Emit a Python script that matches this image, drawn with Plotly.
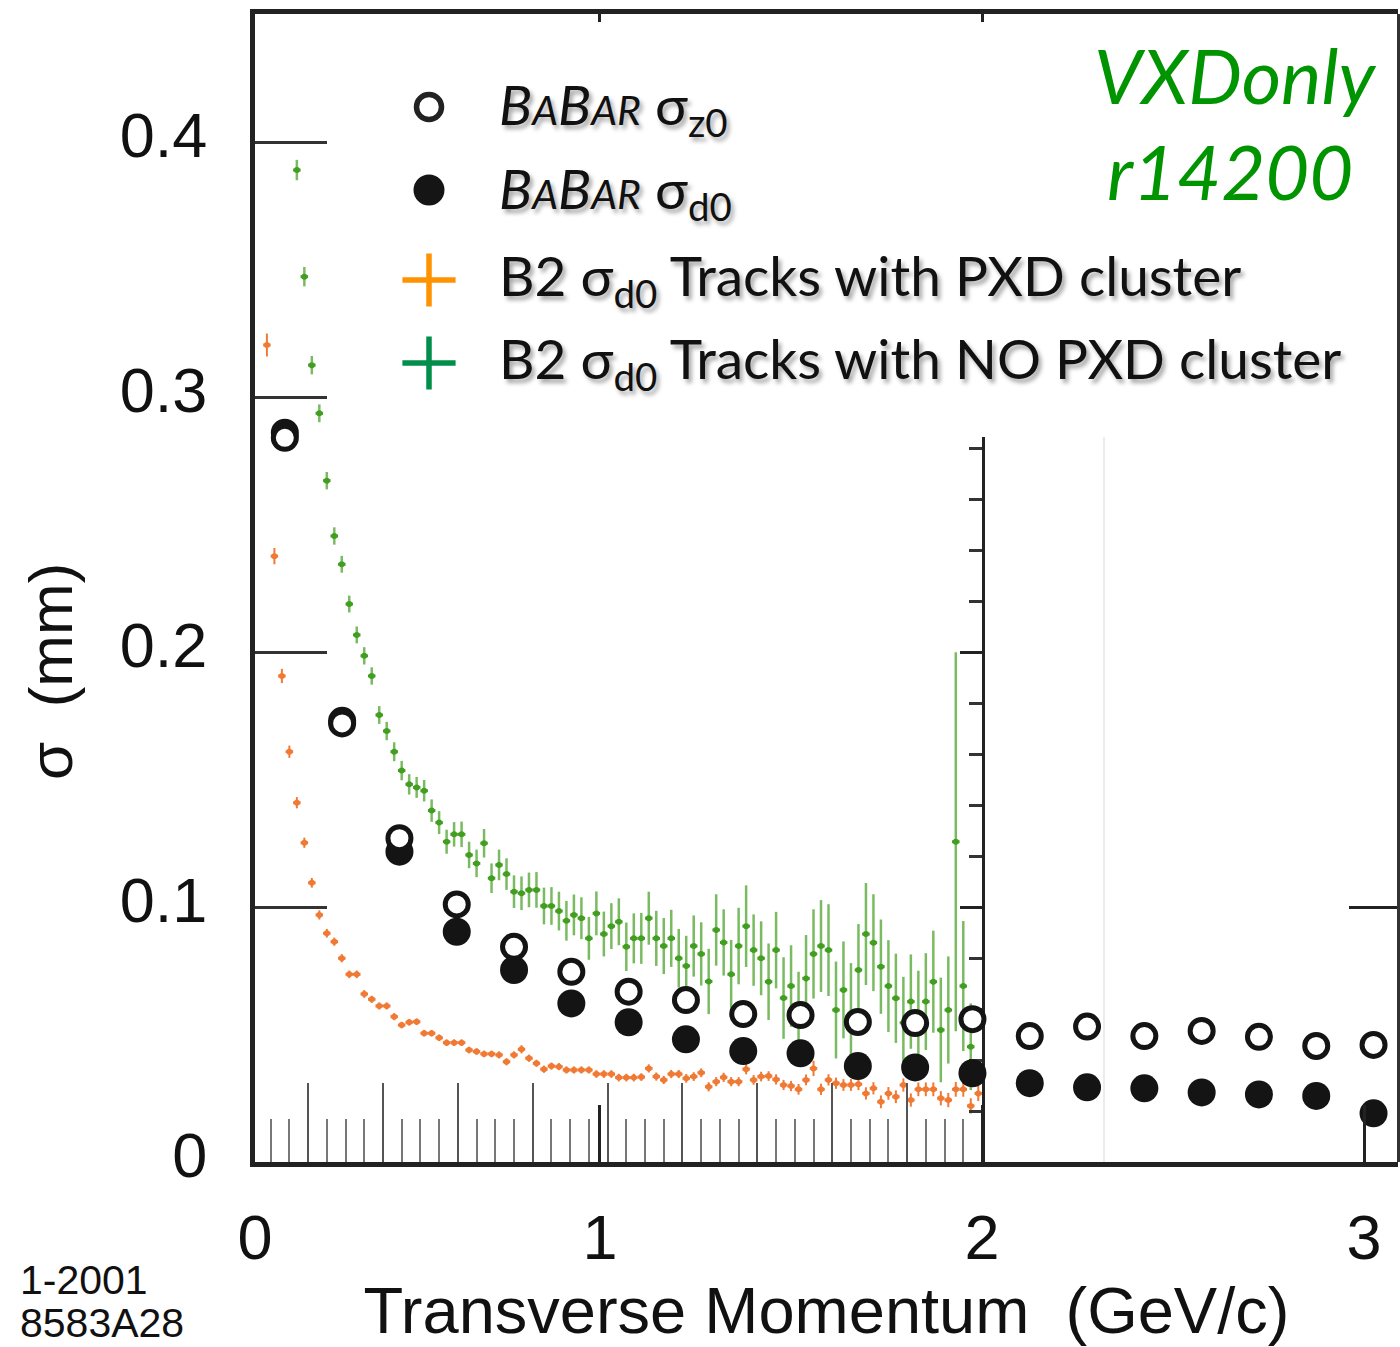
import plotly.graph_objects as go

# ---------------- BaBar impact-parameter resolution (mm) vs pT (GeV/c) ----------------
babar_pt = [0.175, 0.325, 0.475, 0.625, 0.775, 0.925, 1.075, 1.225, 1.375, 1.525,
            1.675, 1.825, 1.975, 2.125, 2.275, 2.425, 2.575, 2.725, 2.875, 3.025]
babar_sigma_z0 = [0.284, 0.172, 0.127, 0.101, 0.0844, 0.0746, 0.0668, 0.0635, 0.0580, 0.0576,
                  0.0549, 0.0545, 0.0560, 0.0494, 0.0531, 0.0494, 0.0514, 0.0491, 0.0455, 0.0459]
babar_sigma_d0 = [0.286, 0.173, 0.1217, 0.0903, 0.0753, 0.0622, 0.0548, 0.0481, 0.0435, 0.0426,
                  0.0376, 0.0371, 0.0348, 0.0309, 0.0293, 0.0289, 0.0273, 0.0265, 0.0259, 0.0191]

# ---------------- Belle II sigma(d0), 0.02 GeV/c bins ----------------
b2_pxd_pt = [round(0.09 + 0.02 * i, 2) for i in range(96)]
b2_pxd_sigma = [0.3204, 0.2376, 0.1906, 0.1609, 0.1409, 0.1252, 0.1095, 0.0969, 0.0897, 0.0864,
                0.0799, 0.0736, 0.0736, 0.0659, 0.0638, 0.0612, 0.0612, 0.0570, 0.0537, 0.0548,
                0.0550, 0.0505, 0.0505, 0.0487, 0.0468, 0.0468, 0.0468, 0.0439, 0.0433, 0.0424,
                0.0424, 0.0420, 0.0393, 0.0420, 0.0442, 0.0407, 0.0387, 0.0364, 0.0376, 0.0374,
                0.0361, 0.0361, 0.0361, 0.0361, 0.0345, 0.0345, 0.0345, 0.0331, 0.0331, 0.0331,
                0.0333, 0.0367, 0.0335, 0.0322, 0.0345, 0.0345, 0.0328, 0.0335, 0.0350, 0.0295,
                0.0315, 0.0332, 0.0315, 0.0315, 0.0364, 0.0322, 0.0335, 0.0337, 0.0324, 0.0302,
                0.0298, 0.0285, 0.0322, 0.0367, 0.0285, 0.0322, 0.0309, 0.0302, 0.0302, 0.0305,
                0.0269, 0.0289, 0.0236, 0.0269, 0.0256, 0.0302, 0.0243, 0.0285, 0.0285, 0.0285,
                0.0250, 0.0243, 0.0285, 0.0285, 0.0220, 0.0269]
b2_pxd_err = [0.0045, 0.0032, 0.0028, 0.0024, 0.0022, 0.0020, 0.0019, 0.0018, 0.0017, 0.0016,
              0.0016, 0.0015, 0.0015, 0.0015, 0.0014, 0.0014, 0.0014, 0.0014, 0.0013, 0.0013,
              0.0013, 0.0013, 0.0013, 0.0013, 0.0013, 0.0013, 0.0013, 0.0013, 0.0013, 0.0013,
              0.0013, 0.0014, 0.0014, 0.0014, 0.0016, 0.0014, 0.0014, 0.0014, 0.0014, 0.0014,
              0.0014, 0.0014, 0.0014, 0.0014, 0.0015, 0.0015, 0.0015, 0.0015, 0.0015, 0.0015,
              0.0015, 0.0016, 0.0016, 0.0016, 0.0016, 0.0016, 0.0017, 0.0017, 0.0017, 0.0018,
              0.0018, 0.0018, 0.0018, 0.0018, 0.0020, 0.0019, 0.0019, 0.0019, 0.0020, 0.0020,
              0.0020, 0.0021, 0.0021, 0.0030, 0.0022, 0.0022, 0.0022, 0.0023, 0.0023, 0.0023,
              0.0024, 0.0024, 0.0025, 0.0025, 0.0025, 0.0026, 0.0026, 0.0027, 0.0027, 0.0027,
              0.0028, 0.0028, 0.0029, 0.0029, 0.0030, 0.0030]

b2_nopxd_pt = [round(0.17 + 0.02 * i, 2) for i in range(91)]
b2_nopxd_sigma = [0.3890, 0.3472, 0.3125, 0.2936, 0.2672, 0.2455, 0.2344, 0.2188, 0.2067, 0.1985,
                  0.1906, 0.1753, 0.1690, 0.1609, 0.1535, 0.1481, 0.1469, 0.1456, 0.1378, 0.1331,
                  0.1256, 0.1285, 0.1285, 0.1204, 0.1171, 0.1250, 0.1113, 0.1165, 0.1129, 0.1060,
                  0.1054, 0.1067, 0.1067, 0.1004, 0.1004, 0.0984, 0.0946, 0.0969, 0.0956, 0.0877,
                  0.0975, 0.0894, 0.0925, 0.0942, 0.0844, 0.0877, 0.0877, 0.0956, 0.0877, 0.0847,
                  0.0877, 0.0799, 0.0769, 0.0847, 0.0816, 0.0708, 0.0910, 0.0861, 0.0736, 0.0847,
                  0.0925, 0.0831, 0.0799, 0.0707, 0.0831, 0.0643, 0.0690, 0.0576, 0.0720, 0.0816,
                  0.0847, 0.0831, 0.0596, 0.0675, 0.0580, 0.0753, 0.0894, 0.0860, 0.0766, 0.0690,
                  0.0642, 0.0546, 0.0629, 0.0560, 0.0629, 0.0707, 0.0518, 0.0596, 0.1256, 0.0690,
                  0.0452]
b2_nopxd_err = [0.0040, 0.0038, 0.0036, 0.0035, 0.0034, 0.0034, 0.0033, 0.0033, 0.0033, 0.0034,
                0.0034, 0.0035, 0.0036, 0.0037, 0.0038, 0.0040, 0.0041, 0.0042, 0.0044, 0.0045,
                0.0047, 0.0048, 0.0050, 0.0052, 0.0054, 0.0056, 0.0058, 0.0060, 0.0062, 0.0064,
                0.0066, 0.0068, 0.0070, 0.0072, 0.0074, 0.0076, 0.0078, 0.0080, 0.0082, 0.0084,
                0.0086, 0.0088, 0.0090, 0.0092, 0.0095, 0.0098, 0.0100, 0.0104, 0.0108, 0.0110,
                0.0112, 0.0115, 0.0118, 0.0120, 0.0124, 0.0128, 0.0140, 0.0130, 0.0135, 0.0150,
                0.0160, 0.0140, 0.0145, 0.0150, 0.0150, 0.0160, 0.0160, 0.0170, 0.0170, 0.0175,
                0.0180, 0.0180, 0.0190, 0.0190, 0.0200, 0.0180, 0.0200, 0.0190, 0.0185, 0.0180,
                0.0175, 0.0180, 0.0185, 0.0190, 0.0190, 0.0200, 0.0205, 0.0210, 0.0743, 0.0255,
                0.0170]

y_ticks = [0, 0.1, 0.2, 0.3, 0.4]
y_tick_text = ["0", "0.1", "0.2", "0.3", "0.4"]
pt_tick_text = ["0", "1", "2", "3"]

# ---------------- frame geometry ----------------
W, H = 1400, 1347
L, R, T, B = 255, 2, 14, 185
PW, PH = W - L - R, H - T - B

PT_LO, PT_HI = 0.0969, 3.089          # BaBar momentum axis
SIG_HI = 0.4502                       # common resolution axis
B2_LO, B2_HI = 0.0582, 2.0            # Belle II momentum axis
B2_FRAC = (982 - L) / PW              # Belle II frame width as fraction
B2_TOP = (1162 - 437) / PH            # visible part of Belle II right axis


def px(xp):
    return (xp - L) / PW


def py(yp):
    return (H - B - yp) / PH


ORANGE = "rgb(240,122,52)"
GREEN = "rgb(66,158,32)"
GREEN_ERR = "rgba(66,158,32,0.7)"

fig = go.Figure()

# Belle II, tracks without PXD cluster
fig.add_trace(go.Scatter(
    x=b2_nopxd_pt, y=b2_nopxd_sigma, xaxis="x", yaxis="y", mode="markers",
    marker=dict(size=6, color=GREEN),
    error_y=dict(type="data", array=b2_nopxd_err, color=GREEN_ERR, thickness=2.5, width=0),
    error_x=dict(type="constant", value=0.01, color=GREEN, thickness=3, width=0),
    cliponaxis=False, showlegend=False))

# Belle II, tracks with PXD cluster
fig.add_trace(go.Scatter(
    x=b2_pxd_pt, y=b2_pxd_sigma, xaxis="x", yaxis="y", mode="markers",
    marker=dict(size=6, color=ORANGE),
    error_y=dict(type="data", array=b2_pxd_err, color=ORANGE, thickness=2, width=0),
    error_x=dict(type="constant", value=0.01, color=ORANGE, thickness=3, width=0),
    cliponaxis=False, showlegend=False))

# BaBar sigma(d0): filled circles
fig.add_trace(go.Scatter(
    x=babar_pt, y=babar_sigma_d0, xaxis="x2", yaxis="y", mode="markers",
    marker=dict(size=28, color="#141414", line=dict(width=0)),
    cliponaxis=False, showlegend=False))

# BaBar sigma(z0): open circles
fig.add_trace(go.Scatter(
    x=babar_pt, y=babar_sigma_z0, xaxis="x2", yaxis="y", mode="markers",
    marker=dict(size=23, color="white", line=dict(width=5, color="#141414")),
    cliponaxis=False, showlegend=False))

# empty traces so the frame axes (top, right, Belle II right axis) are drawn
for xa, ya in (("x3", "y"), ("x2", "y3"), ("x", "y2")):
    fig.add_trace(go.Scatter(x=[], y=[], xaxis=xa, yaxis=ya, mode="markers",
                             showlegend=False, hoverinfo="skip"))

# legend keys, drawn on a hidden unit axis pair
leg_x = px(429)
leg_y = [py(107), py(190), py(280), py(363)]
fig.add_trace(go.Scatter(x=[leg_x], y=[leg_y[0]], xaxis="x4", yaxis="y4", mode="markers",
                         marker=dict(size=25, color="white", line=dict(width=5.5, color="#222")),
                         cliponaxis=False, showlegend=False))
fig.add_trace(go.Scatter(x=[leg_x], y=[leg_y[1]], xaxis="x4", yaxis="y4", mode="markers",
                         marker=dict(size=31, color="#151515"),
                         cliponaxis=False, showlegend=False))
fig.add_trace(go.Scatter(x=[leg_x], y=[leg_y[2]], xaxis="x4", yaxis="y4", mode="markers",
                         marker=dict(symbol="cross-thin", size=38, line=dict(width=5.5, color="#ff9200")),
                         cliponaxis=False, showlegend=False))
fig.add_trace(go.Scatter(x=[leg_x], y=[leg_y[3]], xaxis="x4", yaxis="y4", mode="markers",
                         marker=dict(symbol="cross-thin", size=38, line=dict(width=5.5, color="#008e4a")),
                         cliponaxis=False, showlegend=False))

AX_FONT = dict(family="Liberation Sans, Arial, sans-serif", size=63, color="#111")

fig.update_layout(
    width=W, height=H,
    margin=dict(l=L, r=R, t=T, b=B, autoexpand=False),
    paper_bgcolor="white", plot_bgcolor="rgba(0,0,0,0)",
    showlegend=False,
    # Belle II momentum axis (ticks only, along the bottom)
    xaxis=dict(domain=[0, B2_FRAC], range=[B2_LO, B2_HI], anchor="y",
               showline=False, showgrid=False, zeroline=False, showticklabels=False,
               ticks="inside", tick0=0, dtick=0.2, ticklen=79, tickwidth=2, tickcolor="#555",
               minor=dict(ticks="inside", tick0=0, dtick=0.05, ticklen=43, tickwidth=2,
                          tickcolor="#777", showgrid=False)),
    # BaBar momentum axis
    xaxis2=dict(domain=[0, 1], range=[PT_LO, PT_HI], anchor="y",
                showline=True, linewidth=5, linecolor="#222",
                showgrid=False, zeroline=False,
                ticks="inside", tickvals=[PT_LO, 1, 2, 3], ticktext=pt_tick_text,
                ticklen=57, tickwidth=2.5, tickcolor="#222",
                tickfont=AX_FONT, ticklabelstandoff=16,
                title=dict(text="Transverse Momentum  (GeV/c)", font=dict(
                    family="Liberation Sans, Arial, sans-serif", size=65, color="#111"),
                    standoff=20)),
    # top frame
    xaxis3=dict(overlaying="x2", side="top", range=[PT_LO, PT_HI], anchor="y",
                showline=True, linewidth=5, linecolor="#222",
                showgrid=False, zeroline=False, showticklabels=False,
                ticks="inside", tickvals=[1, 2], ticklen=8, tickwidth=2.5, tickcolor="#222"),
    # unit axis for the legend keys
    xaxis4=dict(domain=[0, 1], range=[0, 1], anchor="y4", visible=False),
    yaxis4=dict(domain=[0, 1], range=[0, 1], anchor="x4", visible=False),
    # resolution axis
    yaxis=dict(domain=[0, 1], range=[0, SIG_HI], anchor="x",
               showline=True, linewidth=5, linecolor="#222",
               showgrid=False, zeroline=False,
               ticks="inside", tickvals=y_ticks, ticktext=y_tick_text,
               ticklen=72, tickwidth=2.5, tickcolor="#333",
               tickfont=AX_FONT, ticklabelstandoff=30, ticklabelshift=-7),
    # Belle II resolution axis on the right of its frame
    yaxis2=dict(domain=[0, B2_TOP], range=[0, (1162 - 437) / 2550], anchor="x", side="right",
                showline=True, linewidth=3, linecolor="#222",
                showgrid=False, zeroline=False, showticklabels=False,
                ticks="inside", tick0=0, dtick=0.1, ticklen=22, tickwidth=3, tickcolor="#222",
                minor=dict(ticks="inside", tick0=0, dtick=0.02, ticklen=13, tickwidth=3,
                           tickcolor="#333", showgrid=False)),
    # right frame
    yaxis3=dict(overlaying="y", side="right", anchor="free", position=1, range=[0, SIG_HI],
                showline=True, linewidth=3, linecolor="#333",
                showgrid=False, zeroline=False, showticklabels=False,
                ticks="inside", tickvals=[0.1], ticklen=48, tickwidth=2.5, tickcolor="#222"),
)

# faint edge of the Belle II canvas
fig.add_shape(type="line", xref="paper", yref="paper", x0=px(1104), x1=px(1104),
              y0=0, y1=B2_TOP, line=dict(color="#ececec", width=2), layer="below")

# y-axis title
fig.add_annotation(x=px(50), y=py(672), xref="paper", yref="paper", text="σ  (mm)",
                   textangle=-90, showarrow=False, xanchor="center", yanchor="middle",
                   font=dict(family="Liberation Sans, Arial, sans-serif", size=62, color="#111"))

LEG_FONT = dict(family="Lato, sans-serif", size=55, color="#111",
                shadow="3px 4px 4px rgba(0,0,0,0.35)")
babar = ("<i>B<span style='font-size:41px'>A</span>"
         "B<span style='font-size:41px'>AR</span></i>")
legend_text = [babar + " σ<sub>z0</sub>",
               babar + " σ<sub>d0</sub>",
               "B2 σ<sub>d0</sub> Tracks with PXD cluster",
               "B2 σ<sub>d0</sub> Tracks with NO PXD cluster"]
legend_text_y = [py(108), py(192), py(279), py(362)]
for txt, yy in zip(legend_text, legend_text_y):
    fig.add_annotation(x=px(497), y=yy, xref="paper", yref="paper", text=txt,
                       showarrow=False, xanchor="left", yanchor="middle", font=LEG_FONT)

GREEN_TXT = dict(family="Lato, sans-serif", size=76, color="#009400", style="italic")
fig.add_annotation(x=px(1378), y=py(75), xref="paper", yref="paper", text="VXDonly",
                   showarrow=False, xanchor="right", yanchor="middle", font=GREEN_TXT)
fig.add_annotation(x=px(1355), y=py(170), xref="paper", yref="paper", text="r14200",
                   showarrow=False, xanchor="right", yanchor="middle", font=GREEN_TXT)

ID_FONT = dict(family="Liberation Sans, Arial, sans-serif", size=41, color="#111")
fig.add_annotation(x=px(18), y=py(1280), xref="paper", yref="paper", text="1-2001",
                   showarrow=False, xanchor="left", yanchor="middle", font=ID_FONT)
fig.add_annotation(x=px(18), y=py(1323), xref="paper", yref="paper", text="8583A28",
                   showarrow=False, xanchor="left", yanchor="middle", font=ID_FONT)

fig.write_html("out.html")
